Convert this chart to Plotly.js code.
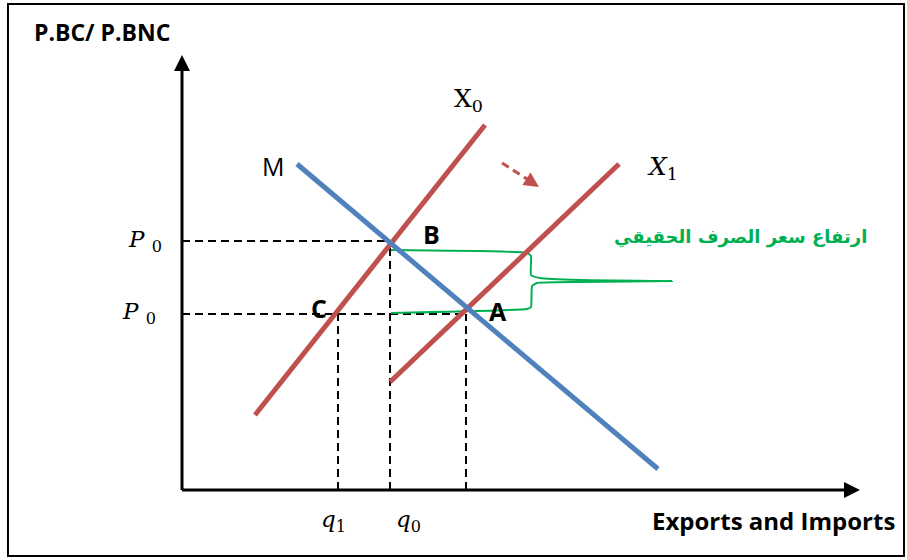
<!DOCTYPE html>
<html>
<head>
<meta charset="utf-8">
<script src="https://cdn.plot.ly/plotly-3.0.1.min.js"></script>
<style>
  html, body { margin: 0; padding: 0; background: #ffffff; }
  #chart { width: 907px; height: 560px; }
</style>
</head>
<body>
<div id="chart"></div>
<script>
// Import demand schedule M (quantity, price)
const mQty = [115, 476];
const mPrice = [326, 21];
// Export supply before the real appreciation (X0)
const x0Qty = [73, 303];
const x0Price = [75, 365];
// Export supply after the real appreciation (X1)
const x1Qty = [208, 437];
const x1Price = [108, 326];

// Equilibrium price levels (upper at B, lower at A/C)
const priceB = 249;
const priceA = 176;
// Quantities read on the horizontal axis
const qC = 156;   // q1
const qB = 208;   // q0
const qA = 284;

// Axis extents (arrow tips)
const xAxisEnd = [0, 678];
const yAxisEnd = [0, 435];

// Shift arrow from X0 towards X1
const shiftQty = [320, 348];
const shiftPrice = [327, 309];
const shiftTip = [357, 303];

// Brace marking the rise of the real exchange rate
const braceQty = [209, 345, 349, 349, 358, 398, 490, 398, 355, 350, 349, 345, 209];
const bracePrice = [240, 237, 234, 215, 212, 210, 209, 208, 207, 204, 183, 181, 177];

// Text labels
const yTitle = 'P.BC/ P.BNC';
const xTitle = 'Exports and Imports';
const braceLabel = 'ارتفاع سعر الصرف الحقيقي';
const qLabels = ['<i>q</i><sub>1</sub>', '<i>q</i><sub>0</sub>'];
const pLabels = ['<i>P</i> <sub>0</sub>', '<i>P</i> <sub>0</sub>'];

const RED = '#C0504D';
const BLUE = '#4F81BD';
const GREEN = '#00B050';
const BLACK = '#000000';

const dashStyle = {color: BLACK, width: 2, dash: '8px,5px'};

const traces = [
  // dashed guides
  {x: [0, qB], y: [priceB, priceB], mode: 'lines', line: dashStyle},
  {x: [0, qA], y: [priceA, priceA], mode: 'lines', line: dashStyle},
  {x: [qC, qC], y: [0, priceA], mode: 'lines', line: dashStyle},
  {x: [qB, qB], y: [0, priceB], mode: 'lines', line: dashStyle},
  {x: [qA, qA], y: [0, priceA], mode: 'lines', line: dashStyle},
  // brace
  {x: braceQty, y: bracePrice, mode: 'lines', line: {color: GREEN, width: 2, shape: 'spline', smoothing: 0.4}},
  // supply curves
  {x: x0Qty, y: x0Price, mode: 'lines', line: {color: RED, width: 5}},
  {x: x1Qty, y: x1Price, mode: 'lines', line: {color: RED, width: 5}},
  // demand curve
  {x: mQty, y: mPrice, mode: 'lines', line: {color: BLUE, width: 5}},
  // shift arrow
  {x: shiftQty, y: shiftPrice, mode: 'lines', line: {color: RED, width: 3, dash: '8px,5px'}},
  {x: [shiftTip[0]], y: [shiftTip[1]], mode: 'markers',
   marker: {symbol: 'arrow-up', size: 15, angle: 123, color: RED, line: {width: 0}}},
  // axes
  {x: [0, 0], y: [0, yAxisEnd[1] - 8], mode: 'lines', line: {color: BLACK, width: 3}},
  {x: [xAxisEnd[0], xAxisEnd[1] - 8], y: [0, 0], mode: 'lines', line: {color: BLACK, width: 3}},
  {x: [0], y: [yAxisEnd[1]], mode: 'markers',
   marker: {symbol: 'arrow-up', size: 16, color: BLACK, line: {width: 0}}},
  {x: [xAxisEnd[1]], y: [0], mode: 'markers',
   marker: {symbol: 'arrow-right', size: 16, color: BLACK, line: {width: 0}}}
];

const sans = '"Open Sans", Lato, sans-serif';
const serif = '"DejaVu Serif", "Liberation Serif", serif';

function label(x, y, text, font, extra) {
  return Object.assign({x: x, y: y, xref: 'x', yref: 'y', text: text, showarrow: false,
    xanchor: 'center', yanchor: 'middle', font: font}, extra || {});
}

const annotations = [
  label(-80, 458, '<b>' + yTitle + '</b>', {family: sans, size: 23, color: BLACK}),
  label(591, -30, '<b>' + xTitle + '</b>', {family: sans, size: 24, color: BLACK}),
  label(91, 324, 'M', {family: sans, size: 25, color: BLACK}),
  label(286, 390, 'X<sub>0</sub>', {family: serif, size: 25, color: BLACK}),
  label(480, 322, '<i>X</i><sub>1</sub>', {family: serif, size: 25, color: BLACK}),
  label(249, 256, '<b>B</b>', {family: sans, size: 25, color: BLACK}),
  label(316, 179, '<b>A</b>', {family: sans, size: 25, color: BLACK}),
  label(137, 182, '<b>C</b>', {family: sans, size: 25, color: BLACK}),
  label(-37, 249, pLabels[0], {family: serif, size: 23, color: BLACK}),
  label(-43, 177, pLabels[1], {family: serif, size: 23, color: BLACK}),
  label(qC - 5, -31, qLabels[0], {family: serif, size: 23, color: BLACK}),
  label(qB + 18, -31, qLabels[1], {family: serif, size: 23, color: BLACK}),
  label(558, 253, '<b>' + braceLabel + '</b>', {family: '"DejaVu Sans", sans-serif', size: 18, color: GREEN})
];

const layout = {
  width: 907,
  height: 560,
  margin: {l: 0, r: 0, t: 0, b: 0},
  paper_bgcolor: '#ffffff',
  plot_bgcolor: '#ffffff',
  showlegend: false,
  xaxis: {range: [-182, 725], visible: false, fixedrange: true},
  yaxis: {range: [-70, 490], visible: false, fixedrange: true},
  annotations: annotations,
  shapes: [
    {type: 'rect', xref: 'paper', yref: 'paper', x0: 0.0088, x1: 0.9967, y0: 0.0071, y1: 0.9929,
     line: {color: BLACK, width: 2}, fillcolor: 'rgba(0,0,0,0)'}
  ]
};

Plotly.newPlot('chart', traces, layout, {displayModeBar: false, staticPlot: true});
</script>
</body>
</html>
